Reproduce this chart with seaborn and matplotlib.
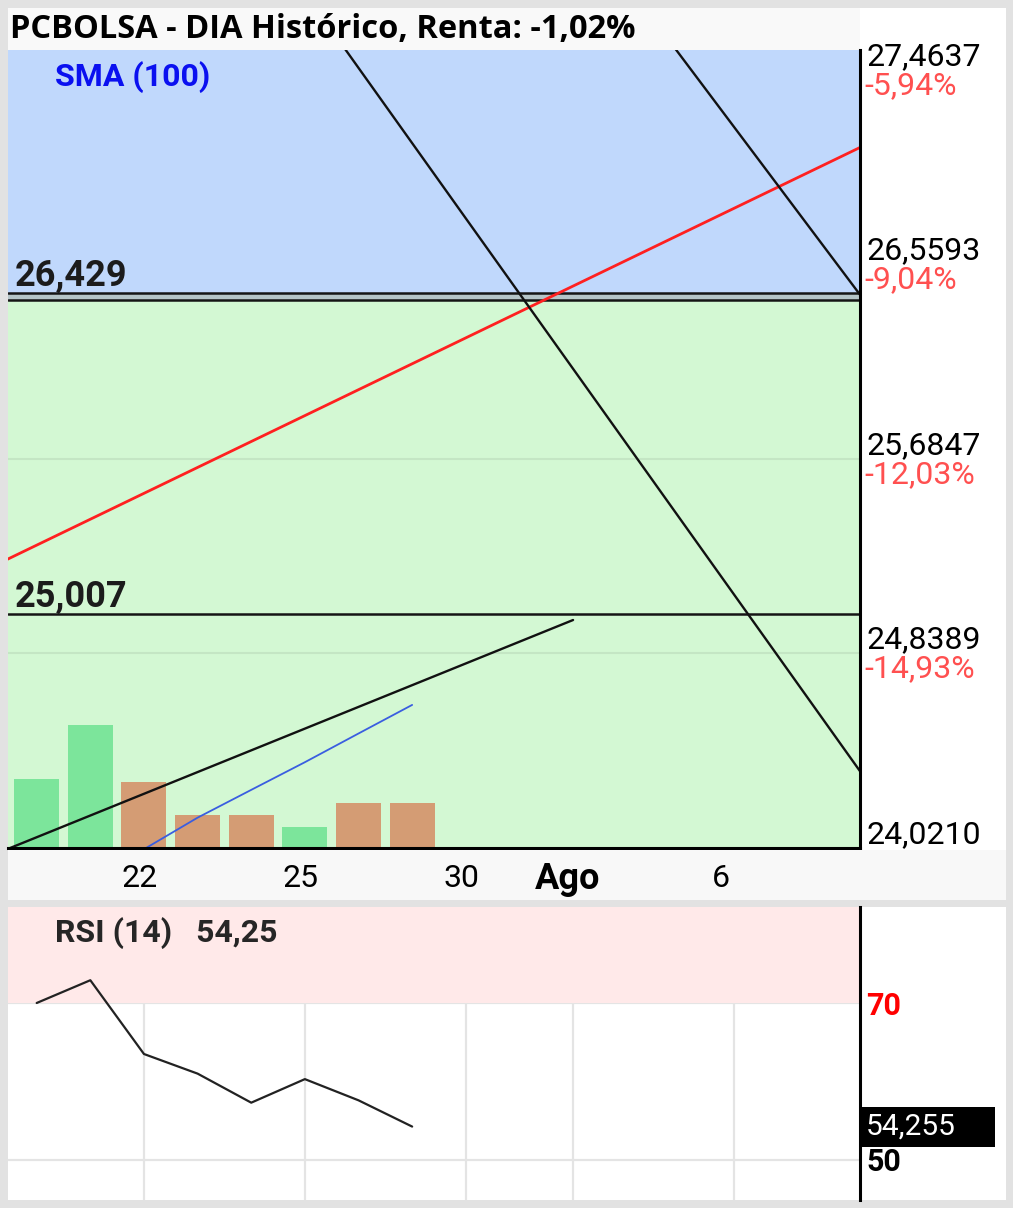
import matplotlib
matplotlib.use('Agg')
import matplotlib.pyplot as plt
import matplotlib.transforms as mtransforms
from matplotlib.patches import Rectangle
from matplotlib.ticker import NullLocator
import seaborn as sns

# trading sessions, index 0 = 18 Jul (weekends skipped)
sessions = [0, 1, 2, 3, 4, 5, 6, 7]
volume = [5.6, 10.0, 5.4, 2.7, 2.7, 1.7, 3.7, 3.7]   # thousands
bar_dir = ['up', 'up', 'down', 'down', 'down', 'up', 'down', 'down']
rsi = [70.0, 72.9, 63.5, 61.0, 57.3, 60.3, 57.6, 54.255]

sma_sessions = [2, 3, 4, 5, 6, 7]
sma_100 = [24.04, 24.17, 24.285, 24.40, 24.52, 24.64]

# hand-drawn lines (session index, price)
support_x = [-1, 10]
support_y = [24.00, 25.00]
red_x = [-1, 16]
red_y = [25.21, 27.18]
down1_x = [5.5, 16]
down1_y = [27.65, 24.16]
down2_x = [11.5, 16]
down2_y = [27.70, 26.22]

levels = [26.429, 25.007]
level_labels = ['26,429', '25,007']
level_band = [26.396, 26.429]

price_ticks = [27.4637, 26.5593, 25.6847, 24.8389, 24.0210]
price_labels = ['27,4637', '26,5593', '25,6847', '24,8389', '24,0210']
pct_labels = ['-5,94%', '-9,04%', '-12,03%', '-14,93%', '']

date_ticks = [2, 5, 8, 10, 13]
date_labels = ['22', '25', '30', 'Ago', '6']

rsi_title = 'RSI (14)   54,25'
rsi_last = 54.255

sns.set_style('white')
plt.rcParams['font.family'] = ['Roboto', 'DejaVu Sans']

W, H = 1013, 1208
fig = plt.figure(figsize=(W / 100, H / 100), dpi=100, facecolor='#e2e2e2')


def box(x0, y0, x1, y1):
    # pixel box (top-left origin) -> figure rect
    return [x0 / W, 1 - y1 / H, (x1 - x0) / W, (y1 - y0) / H]


def fig_rect(x0, y0, x1, y1, color, z=-5):
    r = box(x0, y0, x1, y1)
    fig.add_artist(Rectangle((r[0], r[1]), r[2], r[3], transform=fig.transFigure,
                             facecolor=color, edgecolor='none', zorder=z))


fig_rect(8, 8, 1006, 900, 'white')
fig_rect(8, 907, 1006, 1200, 'white')
fig_rect(8, 8, 860, 50, '#f9f9f9')

XLIM = (-0.535, 15.35)
YLIM = (24.045, 27.557)

# ---- price panel: background layer
ax_bg = fig.add_axes(box(8, 50, 860, 848))
ax_bg.set_yscale('log')
ax_bg.set_xlim(XLIM)
ax_bg.set_ylim(YLIM)
ax_bg.set_facecolor('#d3f8d3')
ax_bg.axhspan(level_band[1], 40, color='#c0d8fc', lw=0)
ax_bg.axhspan(level_band[0], level_band[1], color='#b5c5c8', lw=0)
ax_bg.set_yticks(price_ticks)
ax_bg.yaxis.set_minor_locator(NullLocator())
ax_bg.set_xticks(date_ticks)
ax_bg.grid(True, color='black', alpha=0.07, lw=1.5)
ax_bg.tick_params(length=0, labelleft=False, labelbottom=False)
for s in ax_bg.spines.values():
    s.set_visible(False)

ax_bg.axhline(level_band[0], color='#151515', lw=1.8)
for lv, lab in zip(levels, level_labels):
    ax_bg.axhline(lv, color='#151515', lw=1.8)
    ax_bg.annotate(lab, xy=(0, lv), xycoords=('axes fraction', 'data'),
                   xytext=(7, 7), textcoords='offset pixels', va='baseline',
                   fontsize=26, fontweight='bold', color='#1c1c1c')

for p, lab, pct in zip(price_ticks, price_labels, pct_labels):
    ax_bg.annotate(lab, xy=(1, p), xycoords=('axes fraction', 'data'),
                   xytext=(6, 5), textcoords='offset pixels', va='baseline',
                   fontsize=23, color='black', annotation_clip=False)
    ax_bg.annotate(pct, xy=(1, p), xycoords=('axes fraction', 'data'),
                   xytext=(4, -1), textcoords='offset pixels', va='top',
                   fontsize=23, color='#ff5050', annotation_clip=False)

# ---- volume layer
axv = ax_bg.twinx()
sns.barplot(x=sessions, y=volume, hue=bar_dir, palette={'up': '#7ce59b', 'down': '#d49c74'},
            native_scale=True, dodge=False, legend=False, width=0.84, saturation=1,
            linewidth=0, ax=axv)
axv.set_ylim(0, 65)
axv.set_xlim(XLIM)
axv.set_yticks([])
axv.patch.set_visible(False)
for s in axv.spines.values():
    s.set_visible(False)

# ---- drawn lines layer
ax = ax_bg.twinx()
ax.set_yscale('log')
sns.lineplot(x=red_x, y=red_y, color='#ff2020', lw=2.0, ax=ax)
sns.lineplot(x=support_x, y=support_y, color='#111111', lw=1.7, ax=ax)
sns.lineplot(x=down1_x, y=down1_y, color='#111111', lw=1.7, ax=ax)
sns.lineplot(x=down2_x, y=down2_y, color='#111111', lw=1.7, ax=ax)
sns.lineplot(x=sma_sessions, y=sma_100, color='#3a5ee0', lw=1.3, ax=ax)
ax.set_xlim(XLIM)
ax.set_ylim(YLIM)
ax.yaxis.set_minor_locator(NullLocator())
ax.set_yticks([])
ax.set_xticks([])
ax.set_xlabel('')
ax.set_ylabel('')
ax.patch.set_visible(False)
for k, s in ax.spines.items():
    s.set_visible(k in ('right', 'bottom'))
    s.set_color('black')
    s.set_linewidth(2.2)

fig.text(10 / W, 1 - 29 / H, 'PCBOLSA - DIA Histórico, Renta: -1,02%',
         fontsize=23.5, fontweight='bold', family=['Open Sans', 'DejaVu Sans'],
         va='center', ha='left', color='black')
fig.text(55 / W, 1 - 77 / H, 'SMA (100)', fontsize=23, fontweight='bold',
         color='#0a10f0', va='center', ha='left')

# ---- date band
ax_band = fig.add_axes(box(8, 849.5, 1006, 900))
ax_band.set_facecolor('#f8f8f8')
ax_band.set_xlim(XLIM[0], XLIM[0] + (XLIM[1] - XLIM[0]) * 998 / 852)
ax_band.set_ylim(0, 1)
ax_band.set_xticks([])
ax_band.set_yticks([])
for s in ax_band.spines.values():
    s.set_visible(False)
for t, lab in zip(date_ticks, date_labels):
    if lab == 'Ago':
        ax_band.text(t - 0.11, 0.42, lab, ha='center', va='center',
                     fontsize=26, fontweight='bold', color='black')
    else:
        ax_band.text(t - 0.42, 0.42, lab, ha='left', va='center',
                     fontsize=23, color='black')

# ---- RSI panel
ax_rsi = fig.add_axes(box(8, 907, 860, 1200))
ax_rsi.set_xlim(XLIM)
ax_rsi.set_ylim(44.9, 82.23)
ax_rsi.set_facecolor('white')
ax_rsi.axhspan(70, 100, color='#ffe9e9', lw=0)
ax_rsi.set_xticks(date_ticks)
ax_rsi.set_yticks([50, 70])
ax_rsi.grid(True, color='#e4e4e4', lw=1.6)
ax_rsi.tick_params(length=0, labelleft=False, labelbottom=False)
sns.lineplot(x=sessions, y=rsi, color='#222222', lw=1.6, ax=ax_rsi)
ax_rsi.set_xlabel('')
ax_rsi.set_ylabel('')
for k, s in ax_rsi.spines.items():
    s.set_visible(k == 'right')
    s.set_color('black')
    s.set_linewidth(2.2)

ax_rsi.text(47 / 852, 0.911, rsi_title, transform=ax_rsi.transAxes,
            fontsize=23, fontweight='bold', va='center')
rtrans = mtransforms.blended_transform_factory(ax_rsi.transAxes, ax_rsi.transData)
ax_rsi.text(1 + 6 / 852, 69.6, '70', transform=rtrans, color='#ff0000', fontsize=22,
            fontweight='bold', va='center', clip_on=False)
ax_rsi.text(1 + 6 / 852, 49.8, '50', transform=rtrans, color='black', fontsize=22,
            fontweight='bold', va='center', clip_on=False)
ax_rsi.add_patch(Rectangle((1.0, rsi_last - 2.55), 135 / 852, 5.1, transform=rtrans,
                           facecolor='black', edgecolor='none', clip_on=False, zorder=5))
ax_rsi.text(1 + 6 / 852, rsi_last, f'{rsi_last:.3f}'.replace('.', ','), transform=rtrans,
            color='white', fontsize=21.5, va='center', clip_on=False, zorder=6)

fig.savefig('out.png', dpi=100, facecolor=fig.get_facecolor())
